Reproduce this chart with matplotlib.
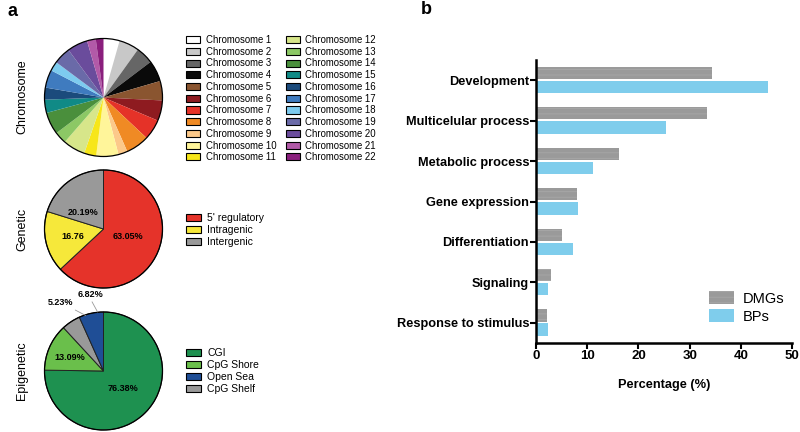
import numpy as np
import matplotlib
matplotlib.use("Agg")
import matplotlib.pyplot as plt
from matplotlib.patches import Patch, Circle

plt.rcParams['font.family'] = ['Liberation Sans', 'DejaVu Sans']
plt.rcParams['hatch.linewidth'] = 0.6

# ---- data ----
chrom_labels = ['Chromosome %d' % i for i in range(1, 23)]
chrom_pct = [4.4, 5.5, 4.8, 5.8, 5.3, 5.6, 5.6, 6.4, 2.5, 6.1, 3.3,
             6.1, 3.3, 6.1, 3.6, 3.3, 4.9, 2.6, 4.7, 5.6, 2.4, 2.1]
chrom_colors = ['#ffffff', '#c8c8c8', '#666666', '#0a0a0a', '#8a5530', '#8e1b20',
                '#e53228', '#f08a24', '#fcc98a', '#fff59a', '#f7e619',
                '#d7e68a', '#8cc865', '#4a8f3c', '#108a86', '#1b4b7c',
                '#3f7bbf', '#7dcbef', '#6a6aa8', '#6a4c9c', '#b25aa8', '#8a1f7d']

gen_labels = ["5' regulatory", 'Intragenic', 'Intergenic']
gen_pct = [63.05, 16.76, 20.19]
gen_text = ['63.05%', '16.76', '20.19%']
gen_colors = ['#e5332a', '#f6e83a', '#999999']

epi_labels = ['CGI', 'CpG Shore', 'CpG Shelf', 'Open Sea']
epi_pct = [76.38, 13.09, 5.23, 6.82]
epi_text = ['76.38%', '13.09%', '5.23%', '6.82%']
epi_colors = ['#1e9150', '#6abf4b', '#999999', '#1f4e96']
epi_legend_order = [0, 1, 3, 2]

processes = ['Development', 'Multicelular process', 'Metabolic process',
             'Gene expression', 'Differentiation', 'Signaling',
             'Response to stimulus']
dmgs = [34.3, 33.4, 16.2, 8.0, 5.1, 3.0, 2.1]
bps = [45.3, 25.3, 11.2, 8.3, 7.3, 2.3, 2.3]

W, H = 800, 432
fig = plt.figure(figsize=(W / 100, H / 100), dpi=100)


def pie_axes(cx, cy, r, lim=1.3):
    s = r * lim
    return fig.add_axes([(cx - s) / W, 1 - (cy + s) / H, 2 * s / W, 2 * s / H])


def fig_legend(ax, handles, labels, x, y, ncol=1, fs=7.5, sp=0.2):
    leg = ax.legend(handles, labels, loc='upper left', bbox_to_anchor=(x / W, 1 - y / H),
                    bbox_transform=fig.transFigure, frameon=False, ncol=ncol,
                    fontsize=fs, handlelength=1.45, handleheight=0.75,
                    handletextpad=0.6, labelspacing=sp, borderpad=0,
                    borderaxespad=0, columnspacing=1.0)
    return leg


# ---- chromosome pie ----
ax1 = pie_axes(103.5, 97.5, 59)
w1, _ = ax1.pie(chrom_pct, colors=chrom_colors, startangle=90, counterclock=False,
                wedgeprops=dict(edgecolor='none', linewidth=0))
ax1.add_patch(Circle((0, 0), 1, fill=False, edgecolor='black', linewidth=0.9))
ax1.set_xlim(-1.3, 1.3)
ax1.set_ylim(-1.3, 1.3)
hs = [Patch(facecolor=c, edgecolor='black', linewidth=0.8) for c in chrom_colors]
fig_legend(ax1, hs, chrom_labels, 186, 35, ncol=2, fs=6.9, sp=0.18)
fig.text(22 / W, 1 - 97 / H, 'Chromosome', rotation=90, ha='center', va='center', fontsize=9)

# ---- genetic pie ----
ax2 = pie_axes(103.5, 229, 59)
ax2.pie(gen_pct, colors=gen_colors, startangle=90, counterclock=False,
        wedgeprops=dict(edgecolor='#222222', linewidth=0.7))
ax2.add_patch(Circle((0, 0), 1, fill=False, edgecolor='black', linewidth=0.9))
gen_pos = [(0.42, -0.13), (-0.52, -0.13), (-0.35, 0.28)]
for t, (px, py) in zip(gen_text, gen_pos):
    ax2.text(px, py, t, ha='center', va='center', fontsize=6.5, fontweight='bold')
ax2.set_xlim(-1.3, 1.3)
ax2.set_ylim(-1.3, 1.3)
hs = [Patch(facecolor=c, edgecolor='black', linewidth=0.8) for c in gen_colors]
fig_legend(ax2, hs, gen_labels, 186, 213)
fig.text(22 / W, 1 - 229 / H, 'Genetic', rotation=90, ha='center', va='center', fontsize=9)

# ---- epigenetic pie ----
ax3 = pie_axes(103.5, 371, 59)
ax3.pie(epi_pct, colors=epi_colors, startangle=90, counterclock=False,
        wedgeprops=dict(edgecolor='#222222', linewidth=0.7))
ax3.add_patch(Circle((0, 0), 1, fill=False, edgecolor='black', linewidth=0.9))
ax3.text(0.33, -0.3, epi_text[0], ha='center', va='center', fontsize=6.5, fontweight='bold')
ax3.text(-0.57, 0.23, epi_text[1], ha='center', va='center', fontsize=6.5, fontweight='bold')
ax3.annotate(epi_text[2], xy=(-0.3, 0.94), xytext=(-0.72, 1.08), fontsize=6.5,
             fontweight='bold', ha='center', va='bottom',
             arrowprops=dict(arrowstyle='-', color='#999999', lw=0.6, shrinkA=0, shrinkB=0,
                             relpos=(0.85, 0.0)))
ax3.annotate(epi_text[3], xy=(-0.1, 1.0), xytext=(-0.22, 1.22), fontsize=6.5,
             fontweight='bold', ha='center', va='bottom',
             arrowprops=dict(arrowstyle='-', color='#999999', lw=0.6, shrinkA=0, shrinkB=0,
                             relpos=(0.5, 0.0)))
ax3.set_xlim(-1.3, 1.3)
ax3.set_ylim(-1.3, 1.3)
hs = [Patch(facecolor=epi_colors[i], edgecolor='black', linewidth=0.8) for i in epi_legend_order]
fig_legend(ax3, hs, [epi_labels[i] for i in epi_legend_order], 186, 348)
fig.text(22 / W, 1 - 371 / H, 'Epigenetic', rotation=90, ha='center', va='center', fontsize=9)

fig.text(8 / W, 1 - 12 / H, 'a', fontsize=13, fontweight='bold', ha='left', va='center')
fig.text(421 / W, 1 - 10 / H, 'b', fontsize=13, fontweight='bold', ha='left', va='center')

# ---- bar chart ----
axb = fig.add_axes([536 / W, 1 - 343 / H, 256 / W, 283 / H])
y = np.arange(len(processes))
axb.barh(y - 0.18, dmgs, height=0.3, color='#9a9a9a', edgecolor='#a8a8a8',
         linewidth=0, hatch='---', label='DMGs')
axb.barh(y + 0.17, bps, height=0.31, color='#7fcdec', linewidth=0, label='BPs')
axb.set_yticks(y)
axb.set_yticklabels(processes, fontsize=9.2, fontweight='bold')
axb.set_ylim(6.5, -0.5)
axb.set_xlim(0, 50)
axb.set_xticks([0, 10, 20, 30, 40, 50])
axb.set_xticklabels(['0', '10', '20', '30', '40', '50'], fontsize=9.5, fontweight='bold')
axb.set_xlabel('Percentage (%)', fontsize=9.2, fontweight='bold', labelpad=12)
for s in ['top', 'right']:
    axb.spines[s].set_visible(False)
for s in ['left', 'bottom']:
    axb.spines[s].set_linewidth(1.8)
axb.tick_params(axis='both', width=1.5, length=4, pad=1)
axb.legend(loc='upper left', bbox_to_anchor=(709 / W, 1 - 291 / H), bbox_transform=fig.transFigure,
           frameon=False, fontsize=10.5, handlelength=1.7, handleheight=1.0,
           handletextpad=0.6, labelspacing=0.25, borderpad=0, borderaxespad=0)

fig.savefig('out.png', dpi=100)
